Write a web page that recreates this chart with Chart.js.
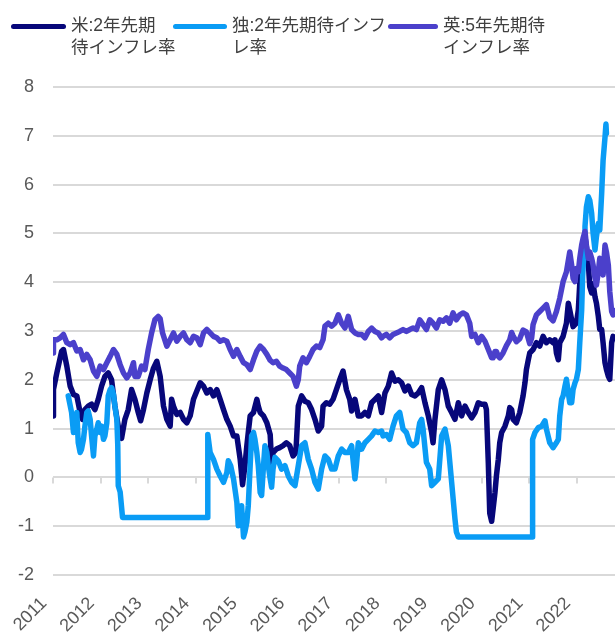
<!DOCTYPE html>
<html>
<head>
<meta charset="utf-8">
<script src="https://cdn.jsdelivr.net/npm/chart.js@4.4.0/dist/chart.umd.min.js"></script>
<style>
  body { margin: 0; background: #fff; }
  #wrap { position: relative; width: 615px; height: 633px; }
  .legend-item { position: absolute; top: 0; font-family: 'Liberation Sans', 'Noto Sans CJK JP', sans-serif; font-size: 17.5px; line-height: 22px; color: #404040; }
  .legend-line { position: absolute; height: 5px; border-radius: 3px; }
  .legend-text { position: absolute; top: 14px; white-space: nowrap; }
</style>
</head>
<body>
<div id="wrap">
  <div id="legend"></div>
  <canvas id="myChart" width="615" height="633"></canvas>
</div>
<script>
// 年(小数) と 期待インフレ率(%)
var usPoints = [
  [2011.00, 1.26], [2011.01, 1.80], [2011.08, 2.14], [2011.18, 2.58], [2011.22, 2.62], [2011.29, 2.28],
  [2011.36, 1.87], [2011.43, 1.70], [2011.50, 1.67], [2011.57, 1.33], [2011.62, 1.19], [2011.67, 1.39],
  [2011.74, 1.46], [2011.81, 1.50], [2011.88, 1.39], [2011.95, 1.60], [2012.02, 1.87], [2012.09, 2.07],
  [2012.16, 2.14], [2012.23, 2.00], [2012.30, 1.46], [2012.37, 1.05], [2012.44, 0.80], [2012.51, 1.19],
  [2012.58, 1.39], [2012.65, 1.80], [2012.72, 1.60], [2012.79, 1.33], [2012.84, 1.16], [2012.90, 1.39],
  [2012.97, 1.73], [2013.04, 2.00], [2013.11, 2.24], [2013.18, 2.38], [2013.25, 2.07], [2013.32, 1.46],
  [2013.39, 1.19], [2013.46, 1.05], [2013.49, 1.60], [2013.53, 1.46], [2013.60, 1.29], [2013.67, 1.33],
  [2013.74, 1.19], [2013.81, 1.12], [2013.88, 1.26], [2013.95, 1.60], [2014.02, 1.77], [2014.09, 1.94],
  [2014.16, 1.87], [2014.23, 1.73], [2014.30, 1.80], [2014.37, 1.67], [2014.44, 1.80], [2014.51, 1.60],
  [2014.58, 1.39], [2014.65, 1.19], [2014.72, 1.05], [2014.79, 0.85], [2014.86, 0.85], [2014.93, 0.37],
  [2014.98, -0.15], [2015.03, 0.24], [2015.07, 0.65], [2015.10, 0.92], [2015.14, 1.26], [2015.21, 1.33],
  [2015.28, 1.60], [2015.31, 1.46], [2015.35, 1.33], [2015.42, 1.26], [2015.49, 1.12], [2015.56, 0.88],
  [2015.59, 0.29], [2015.62, 0.51], [2015.69, 0.58], [2015.76, 0.61], [2015.83, 0.65], [2015.90, 0.71],
  [2015.97, 0.65], [2016.04, 0.44], [2016.10, 0.51], [2016.15, 1.46], [2016.22, 1.67], [2016.29, 1.56],
  [2016.36, 1.53], [2016.43, 1.39], [2016.50, 1.19], [2016.57, 0.95], [2016.64, 1.05], [2016.67, 1.46],
  [2016.74, 1.53], [2016.81, 1.50], [2016.88, 1.60], [2016.95, 1.80], [2017.02, 2.00], [2017.09, 2.18],
  [2017.16, 1.80], [2017.23, 1.60], [2017.27, 1.36], [2017.34, 1.60], [2017.41, 1.26], [2017.48, 1.26],
  [2017.55, 1.33], [2017.62, 1.26], [2017.69, 1.53], [2017.76, 1.60], [2017.83, 1.67], [2017.90, 1.33],
  [2017.97, 1.73], [2018.04, 1.87], [2018.11, 2.14], [2018.18, 1.97], [2018.25, 2.00], [2018.32, 1.94],
  [2018.39, 1.77], [2018.46, 1.87], [2018.53, 1.70], [2018.60, 1.67], [2018.67, 1.73], [2018.74, 1.84],
  [2018.81, 1.53], [2018.88, 1.26], [2018.95, 0.92], [2018.98, 0.71], [2019.02, 1.19], [2019.09, 1.80],
  [2019.16, 2.00], [2019.23, 1.80], [2019.30, 1.46], [2019.37, 1.33], [2019.44, 1.19], [2019.51, 1.53],
  [2019.58, 1.26], [2019.65, 1.46], [2019.72, 1.33], [2019.79, 1.22], [2019.86, 1.33], [2019.93, 1.53],
  [2020.00, 1.50], [2020.07, 1.50], [2020.10, 1.39], [2020.14, 0.29], [2020.17, -0.73], [2020.21, -0.90],
  [2020.24, -0.65], [2020.28, -0.31], [2020.31, 0.03], [2020.35, 0.37], [2020.38, 0.71], [2020.42, 0.92],
  [2020.49, 1.05], [2020.56, 1.26], [2020.59, 1.43], [2020.63, 1.39], [2020.66, 1.19], [2020.73, 1.12],
  [2020.80, 1.33], [2020.87, 1.67], [2020.91, 1.94], [2020.94, 2.21], [2020.98, 2.41], [2021.01, 2.55],
  [2021.08, 2.62], [2021.15, 2.76], [2021.22, 2.69], [2021.29, 2.89], [2021.36, 2.76], [2021.43, 2.82],
  [2021.50, 2.76], [2021.54, 2.82], [2021.57, 2.55], [2021.61, 2.41], [2021.64, 2.76], [2021.71, 2.89],
  [2021.78, 3.16], [2021.82, 3.57], [2021.85, 3.43], [2021.89, 3.23], [2021.92, 3.09], [2021.99, 3.16],
  [2022.03, 3.43], [2022.06, 3.97], [2022.10, 4.39], [2022.13, 4.65], [2022.17, 4.93], [2022.20, 4.72],
  [2022.24, 4.39], [2022.27, 3.91], [2022.31, 3.78], [2022.34, 3.97], [2022.38, 3.70], [2022.41, 3.57],
  [2022.45, 3.30], [2022.48, 3.03], [2022.52, 3.03], [2022.55, 2.76], [2022.59, 2.35], [2022.62, 2.21],
  [2022.66, 2.07], [2022.69, 2.01], [2022.73, 2.76], [2022.76, 2.89], [2022.80, 2.85]
];

var dePoints = [
  [2011.32, 1.67], [2011.39, 1.33], [2011.43, 0.92], [2011.46, 0.99], [2011.50, 1.33], [2011.53, 0.71],
  [2011.57, 0.51], [2011.60, 0.58], [2011.64, 0.78], [2011.67, 1.05], [2011.71, 1.33], [2011.74, 1.36],
  [2011.78, 1.19], [2011.81, 0.85], [2011.85, 0.44], [2011.88, 0.85], [2011.92, 0.99], [2011.95, 1.12],
  [2011.99, 0.92], [2012.02, 1.05], [2012.06, 0.78], [2012.09, 0.85], [2012.13, 1.12], [2012.16, 1.67],
  [2012.20, 1.80], [2012.23, 1.84], [2012.27, 1.70], [2012.30, 1.46], [2012.34, 1.19], [2012.36, 0.65],
  [2012.37, -0.17], [2012.41, -0.30], [2012.46, -0.82], [2014.24, -0.82], [2014.25, 0.88], [2014.30, 0.51],
  [2014.37, 0.37], [2014.44, 0.17], [2014.51, 0.03], [2014.58, -0.10], [2014.65, 0.10], [2014.68, 0.34],
  [2014.73, 0.24], [2014.79, -0.03], [2014.86, -0.51], [2014.89, -0.99], [2014.93, -0.85], [2014.96, -0.58],
  [2015.00, -1.22], [2015.03, -1.12], [2015.07, -0.92], [2015.10, -0.58], [2015.14, 0.24], [2015.17, 0.85],
  [2015.21, 0.92], [2015.24, 0.78], [2015.28, 0.51], [2015.31, 0.24], [2015.35, -0.31], [2015.38, -0.37],
  [2015.42, 0.24], [2015.45, 0.65], [2015.49, 0.51], [2015.52, 0.24], [2015.56, -0.03], [2015.59, -0.20],
  [2015.62, 0.17], [2015.66, 0.41], [2015.73, 0.34], [2015.80, 0.17], [2015.87, 0.24], [2015.94, 0.03],
  [2016.01, -0.10], [2016.08, -0.17], [2016.15, 0.24], [2016.22, 0.65], [2016.29, 0.71], [2016.36, 0.37],
  [2016.43, 0.17], [2016.50, -0.10], [2016.57, -0.24], [2016.64, 0.17], [2016.71, 0.44], [2016.78, 0.37],
  [2016.85, 0.17], [2016.92, 0.17], [2016.99, 0.44], [2017.06, 0.58], [2017.13, 0.51], [2017.20, 0.51],
  [2017.27, 0.65], [2017.34, -0.03], [2017.37, 0.24], [2017.41, 0.71], [2017.48, 0.58], [2017.55, 0.71],
  [2017.62, 0.78], [2017.69, 0.85], [2017.76, 0.95], [2017.83, 0.92], [2017.90, 0.95], [2017.93, 0.85],
  [2018.00, 0.88], [2018.07, 0.78], [2018.14, 1.05], [2018.21, 1.26], [2018.28, 1.33], [2018.35, 0.99],
  [2018.42, 0.92], [2018.49, 0.71], [2018.56, 0.65], [2018.63, 0.71], [2018.70, 1.12], [2018.74, 1.19],
  [2018.77, 0.99], [2018.84, 0.31], [2018.91, 0.17], [2018.95, -0.17], [2019.02, -0.10], [2019.09, -0.03],
  [2019.16, 0.85], [2019.23, 0.99], [2019.30, 0.65], [2019.37, -0.10], [2019.44, -0.85], [2019.47, -1.12],
  [2019.51, -1.22], [2021.06, -1.22], [2021.07, 0.78], [2021.12, 0.92], [2021.19, 1.02], [2021.26, 1.05],
  [2021.33, 1.16], [2021.36, 0.99], [2021.43, 0.71], [2021.50, 0.61], [2021.57, 0.71], [2021.61, 0.78],
  [2021.64, 1.26], [2021.68, 1.60], [2021.71, 1.67], [2021.75, 1.87], [2021.78, 2.01], [2021.82, 1.73],
  [2021.85, 1.53], [2021.89, 1.53], [2021.92, 1.80], [2021.96, 1.94], [2021.99, 2.01], [2022.03, 2.21],
  [2022.06, 2.76], [2022.10, 3.43], [2022.12, 4.11], [2022.15, 4.66], [2022.17, 5.14], [2022.20, 5.54],
  [2022.24, 5.75], [2022.27, 5.68], [2022.31, 5.41], [2022.34, 5.00], [2022.38, 4.66], [2022.41, 4.93],
  [2022.45, 5.20], [2022.48, 5.07], [2022.52, 5.82], [2022.55, 6.50], [2022.59, 6.97], [2022.61, 7.24],
  [2022.62, 7.05]
];

var ukPoints = [
  [2011.00, 2.55], [2011.01, 2.82], [2011.08, 2.82], [2011.15, 2.86], [2011.22, 2.93], [2011.29, 2.76],
  [2011.36, 2.72], [2011.43, 2.76], [2011.50, 2.59], [2011.57, 2.62], [2011.64, 2.41], [2011.71, 2.52],
  [2011.78, 2.41], [2011.85, 2.18], [2011.92, 2.07], [2011.99, 2.28], [2012.06, 2.21], [2012.13, 2.35],
  [2012.20, 2.48], [2012.27, 2.62], [2012.34, 2.52], [2012.41, 2.31], [2012.48, 2.14], [2012.55, 2.04],
  [2012.62, 2.14], [2012.69, 2.35], [2012.72, 2.07], [2012.79, 2.07], [2012.86, 2.28], [2012.93, 2.21],
  [2013.00, 2.62], [2013.07, 2.96], [2013.14, 3.23], [2013.21, 3.30], [2013.25, 3.25], [2013.30, 2.96],
  [2013.39, 2.69], [2013.46, 2.82], [2013.53, 2.96], [2013.60, 2.79], [2013.67, 2.89], [2013.74, 2.96],
  [2013.81, 2.82], [2013.88, 2.76], [2013.95, 2.89], [2014.02, 2.86], [2014.09, 2.72], [2014.16, 2.96],
  [2014.23, 3.03], [2014.30, 2.96], [2014.37, 2.89], [2014.44, 2.86], [2014.51, 2.79], [2014.58, 2.82],
  [2014.65, 2.79], [2014.72, 2.62], [2014.79, 2.48], [2014.86, 2.62], [2014.93, 2.48], [2015.00, 2.35],
  [2015.07, 2.31], [2015.14, 2.21], [2015.21, 2.41], [2015.28, 2.59], [2015.35, 2.69], [2015.42, 2.62],
  [2015.49, 2.52], [2015.56, 2.40], [2015.62, 2.35], [2015.69, 2.38], [2015.76, 2.28], [2015.83, 2.24],
  [2015.90, 2.21], [2015.97, 2.14], [2016.04, 2.07], [2016.11, 1.87], [2016.15, 2.00], [2016.18, 2.28],
  [2016.25, 2.45], [2016.32, 2.35], [2016.39, 2.48], [2016.46, 2.62], [2016.53, 2.69], [2016.60, 2.66],
  [2016.67, 2.82], [2016.71, 3.10], [2016.78, 3.16], [2016.85, 3.10], [2016.92, 3.16], [2016.99, 3.33],
  [2017.06, 3.16], [2017.13, 3.06], [2017.20, 3.30], [2017.27, 3.03], [2017.34, 2.96], [2017.41, 2.93],
  [2017.48, 2.93], [2017.55, 2.86], [2017.62, 2.99], [2017.69, 3.06], [2017.76, 2.99], [2017.83, 2.96],
  [2017.90, 2.86], [2017.93, 2.89], [2018.00, 2.93], [2018.07, 2.86], [2018.14, 2.93], [2018.21, 2.96],
  [2018.28, 2.99], [2018.35, 3.03], [2018.42, 2.99], [2018.49, 3.03], [2018.56, 3.06], [2018.63, 3.03],
  [2018.70, 3.23], [2018.77, 3.13], [2018.84, 3.03], [2018.91, 3.23], [2018.98, 3.16], [2019.05, 3.06],
  [2019.12, 3.23], [2019.19, 3.20], [2019.26, 3.27], [2019.33, 3.16], [2019.40, 3.37], [2019.47, 3.23],
  [2019.54, 3.33], [2019.61, 3.37], [2019.68, 3.33], [2019.75, 3.16], [2019.79, 2.89], [2019.86, 2.93],
  [2019.93, 2.76], [2020.00, 2.89], [2020.07, 2.79], [2020.14, 2.62], [2020.21, 2.45], [2020.24, 2.45],
  [2020.28, 2.58], [2020.31, 2.58], [2020.35, 2.48], [2020.38, 2.45], [2020.45, 2.55], [2020.52, 2.70],
  [2020.59, 2.82], [2020.63, 2.97], [2020.66, 2.90], [2020.73, 2.78], [2020.80, 2.84], [2020.87, 3.02],
  [2020.94, 2.98], [2021.01, 2.74], [2021.05, 2.86], [2021.08, 3.13], [2021.15, 3.33], [2021.22, 3.40],
  [2021.29, 3.47], [2021.36, 3.54], [2021.43, 3.28], [2021.50, 3.21], [2021.57, 3.40], [2021.64, 3.67],
  [2021.71, 4.01], [2021.78, 4.21], [2021.85, 4.62], [2021.89, 4.35], [2021.92, 4.08], [2021.96, 4.01],
  [2021.99, 4.28], [2022.03, 4.21], [2022.06, 4.49], [2022.10, 4.76], [2022.13, 4.90], [2022.17, 5.04],
  [2022.20, 4.76], [2022.24, 4.49], [2022.27, 4.62], [2022.31, 4.49], [2022.34, 4.35], [2022.38, 4.08],
  [2022.41, 3.94], [2022.45, 4.21], [2022.48, 4.49], [2022.52, 4.28], [2022.55, 4.15], [2022.59, 4.76],
  [2022.62, 4.62], [2022.66, 4.35], [2022.69, 3.81], [2022.73, 3.40], [2022.76, 3.33], [2022.80, 3.42]
];

var seriesNames = ['米:2年先期\n待インフレ率', '独:2年先期待インフ\nレ率', '英:5年先期待\nインフレ率'];
var seriesColors = ['#07077a', '#0a9cf5', '#4b40cb'];
var yearTicks = [2011, 2012, 2013, 2014, 2015, 2016, 2017, 2018, 2019, 2020, 2021, 2022];
var yTicks = [-2, -1, 0, 1, 2, 3, 4, 5, 6, 7, 8];

// 凡例 (2行表示なのでHTMLで置く)
var legendPos = [[11, 71], [173, 232], [388, 443]];
var legendBox = document.getElementById('legend');
seriesNames.forEach(function (name, i) {
    var item = document.createElement('div');
    item.className = 'legend-item';
    var line = document.createElement('div');
    line.className = 'legend-line';
    line.style.left = legendPos[i][0] + 'px';
    line.style.top = '24px';
    line.style.width = (legendPos[i][1] - legendPos[i][0] - 5) + 'px';
    line.style.background = seriesColors[i];
    var text = document.createElement('div');
    text.className = 'legend-text';
    text.style.left = legendPos[i][1] + 'px';
    text.innerHTML = name.replace('\n', '<br>');
    item.appendChild(line);
    item.appendChild(text);
    legendBox.appendChild(item);
});

function toXY(points) {
    return points.map(function (p) { return { x: p[0], y: p[1] }; });
}

// ゼロ線上の年目盛り
var zeroTicks = {
    id: 'zeroTicks',
    beforeDatasetsDraw: function (chart) {
        var ctx = chart.ctx;
        var xs = chart.scales.x, ys = chart.scales.y;
        var y0 = ys.getPixelForValue(0);
        ctx.save();
        ctx.strokeStyle = '#d9d9d9';
        ctx.lineWidth = 2;
        yearTicks.forEach(function (yr) {
            var px = Math.round(xs.getPixelForValue(yr));
            ctx.beginPath();
            ctx.moveTo(px, y0);
            ctx.lineTo(px, y0 + 6);
            ctx.stroke();
        });
        ctx.restore();
    }
};

Chart.defaults.font.family = "'Liberation Sans', 'Noto Sans CJK JP', sans-serif";
Chart.defaults.color = '#595959';

var datasets = [usPoints, dePoints, ukPoints].map(function (pts, i) {
    return {
        label: seriesNames[i],
        data: toXY(pts),
        borderColor: seriesColors[i],
        backgroundColor: seriesColors[i],
        borderWidth: 5.5,
        pointRadius: 0,
        tension: 0,
        borderJoinStyle: 'round',
        borderCapStyle: 'round',
        order: 2 - i
    };
});

var config = {
    type: 'line',
    data: { datasets: datasets },
    options: {
        responsive: false,
        animation: false,
        devicePixelRatio: 1,
        layout: { padding: { top: 87, right: 0, bottom: 0, left: 0 } },
        plugins: { legend: { display: false }, tooltip: { enabled: false } },
        scales: {
            x: {
                type: 'linear',
                min: 2011,
                max: 2022.8,
                grid: { display: false },
                border: { display: false },
                ticks: {
                    font: { size: 18 },
                    color: '#595959',
                    minRotation: 45,
                    maxRotation: 45,
                    autoSkip: false,
                    padding: 10,
                    labelOffset: -9,
                    callback: function (v) { return String(v); }
                },
                afterBuildTicks: function (scale) {
                    scale.ticks = yearTicks.map(function (v) { return { value: v }; });
                },
                afterFit: function (scale) {
                    scale.height = 58;
                    scale.paddingLeft = 0;
                    scale.paddingRight = 0;
                }
            },
            y: {
                min: -2,
                max: 8,
                grid: { color: '#d9d9d9', lineWidth: 2, drawTicks: false },
                border: { display: false },
                ticks: { font: { size: 18 }, color: '#595959', padding: 19 },
                afterBuildTicks: function (scale) {
                    scale.ticks = yTicks.map(function (v) { return { value: v }; });
                },
                afterFit: function (scale) {
                    scale.width = 53;
                }
            }
        }
    },
    plugins: [zeroTicks]
};

var myChart = new Chart(document.getElementById('myChart'), config);
</script>
</body>
</html>
